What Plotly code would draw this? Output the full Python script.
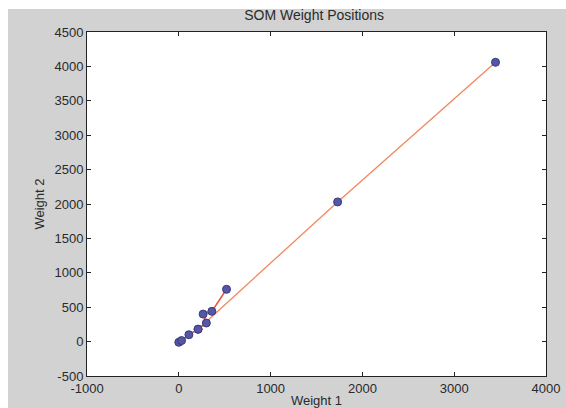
import plotly.graph_objects as go

# Weight positions (SOM neurons), chained order
w1 = [0, 30, 110, 210, 300, 265, 360, 520]
w2 = [-10, 15, 100, 180, 270, 400, 440, 760]
# long chain segment
w1_long = [210, 1730, 3450]
w2_long = [180, 2030, 4060]

x_ticks = [-1000, 0, 1000, 2000, 3000, 4000]
y_ticks = [-500, 0, 500, 1000, 1500, 2000, 2500, 3000, 3500, 4000, 4500]

W, H = 566, 408
L, R, T, B = 87, 20, 32, 32
pw, ph = W - L - R, H - T - B

fig = go.Figure()
mk = dict(size=8, color="#5656a6", line=dict(color="#3a3a7a", width=1))
fig.add_trace(go.Scatter(x=w1_long, y=w2_long, mode="lines+markers",
                         line=dict(color="#f2875f", width=1.3), marker=mk, showlegend=False))
fig.add_trace(go.Scatter(x=w1, y=w2, mode="lines+markers",
                         line=dict(color="#e85a3c", width=1.6), marker=mk, showlegend=False))

font = dict(family="Liberation Sans, Arial", size=13, color="#2a2a2a")
axis_common = dict(showgrid=False, zeroline=False, showline=True, linecolor="#222",
                   linewidth=1, mirror="ticks", ticks="inside", ticklen=4,
                   tickcolor="#222", tickfont=font, automargin=False)
fig.update_layout(
    width=W, height=H,
    margin=dict(l=L, r=R, t=T, b=B),
    paper_bgcolor="#d2d2d2", plot_bgcolor="white",
    font=font,
    title=dict(text="SOM Weight Positions", x=0.555, xanchor="center", y=1 - 15 / H,
               yanchor="middle", font=dict(family="Liberation Sans, Arial", size=14, color="#2a2a2a")),
    xaxis=dict(range=[-1000, 4000], tickvals=x_ticks, ticktext=[str(v) for v in x_ticks],
               title=dict(text="Weight 1", standoff=2, font=font), **axis_common),
    yaxis=dict(range=[-500, 4500], tickvals=y_ticks, ticktext=[str(v) for v in y_ticks],
               title=dict(text="Weight 2", standoff=6, font=font), **axis_common),
    shapes=[
        dict(type="rect", xref="paper", yref="paper", layer="above",
             x0=-L / pw, x1=(-L + 8) / pw, y0=-B / ph, y1=(ph + T) / ph,
             fillcolor="white", line=dict(width=0)),
        dict(type="rect", xref="paper", yref="paper", layer="above",
             x0=-L / pw, x1=(pw + R) / pw, y0=(ph + T - 9) / ph, y1=(ph + T) / ph,
             fillcolor="white", line=dict(width=0)),
    ],
)
fig.write_html("out.html")
